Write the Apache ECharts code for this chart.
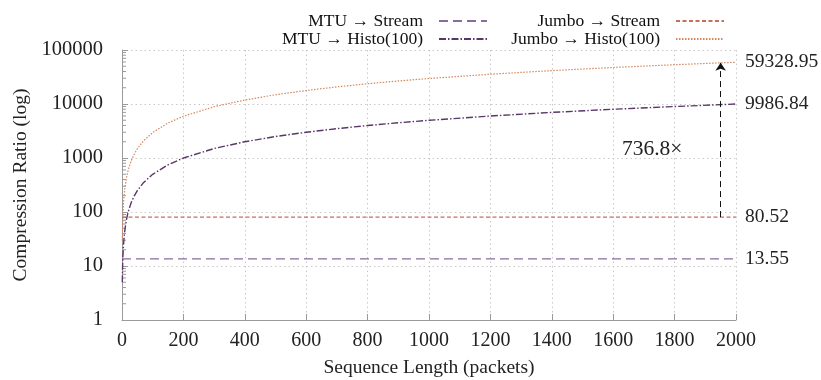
<!DOCTYPE html>
<html><head><meta charset="utf-8">
<script src="https://cdn.jsdelivr.net/npm/echarts@6/dist/echarts.min.js"></script>
<style>html,body{margin:0;padding:0;background:#fff}#c{width:821px;height:380px}</style>
</head><body><div id="c"></div>
<script>
// ---- data ----
const seqLen = [1,2,3,5,7,10,15,20,30,40,50,70,100,150,200,300,400,500,600,700,800,900,1000,1200,1400,1600,1800,2000];
const mtuHisto = [5.0,10.0,15.0,25.0,35.0,49.9,74.9,99.9,149.8,199.7,249.7,349.5,499.3,749,998.7,1498,1997,2497,2996,3495,3995,4494,4993,5992,6991,7989,8988,9986.84];
const jumboHisto = [29.7,59.3,89.0,148.3,207.7,296.6,445,593,890,1187,1483,2077,2966,4450,5933,8899,11866,14832,17799,20765,23732,26698,29664,35597,41530,47463,53396,59328.95];
const streamX = [0, 2000];
const mtuStream = [13.55, 13.55];
const jumboStream = [80.52, 80.52];
const seriesNames = ['MTU \u2192 Stream', 'MTU \u2192 Histo(100)', 'Jumbo \u2192 Stream', 'Jumbo \u2192 Histo(100)'];
const decades = [1, 10, 100, 1000, 10000];
const minorMult = [2,3,4,5,6,7,8,9];
const arrowX = 1950, arrowTop = 57850;
const annotX = 1727, annotY = 1456;

const FONT = 'Liberation Serif';
const pair = (xs, ys) => xs.map((x, i) => [x, ys[i]]);
const minorTicks = [];
decades.forEach(d => minorMult.forEach(m => minorTicks.push([0, d * m])));
const ratio = (jumboHisto[jumboHisto.length - 1] / jumboStream[1]).toFixed(1);

const endLbl = (txt) => ({show: true, formatter: txt, distance: 9, color: '#222', fontSize: 19.5, fontFamily: FONT});
const legendBase = {orient: 'vertical', align: 'right', top: 12, padding: 0, itemGap: 0, itemWidth: 48, itemHeight: 14,
  itemStyle: {opacity: 0, borderWidth: 0},
  textStyle: {fontSize: 17.5, fontFamily: FONT, color: '#111', lineHeight: 14, padding: [0, 11, 0, 0]}};

const chart = echarts.init(document.getElementById('c'), null, {renderer: 'canvas'});
chart.setOption({
  animation: false,
  textStyle: {fontFamily: FONT},
  grid: {left: 122, right: 85, top: 50, bottom: 60, containLabel: false, outerBoundsMode: 'none'},
  legend: [
    Object.assign({}, legendBase, {data: [seriesNames[0], seriesNames[1]], right: 333}),
    Object.assign({}, legendBase, {data: [seriesNames[2], seriesNames[3]], right: 96})
  ],
  xAxis: {
    type: 'value', min: 0, max: 2000, interval: 200,
    name: 'Sequence Length (packets)', nameLocation: 'middle', nameGap: 38,
    nameTextStyle: {fontSize: 19.5, fontFamily: FONT, color: '#222'},
    axisLine: {lineStyle: {color: '#9a9a9a', width: 1}},
    axisTick: {inside: true, length: 6, lineStyle: {color: '#9a9a9a'}},
    axisLabel: {margin: 11, fontSize: 20, fontFamily: FONT, color: '#222', formatter: v => String(v)},
    splitLine: {show: true, lineStyle: {color: '#c8c8c8', type: [1.5, 3], width: 1}}
  },
  yAxis: {
    type: 'log', logBase: 10, min: 1, max: 100000,
    name: 'Compression Ratio (log)', nameLocation: 'middle', nameGap: 86, nameRotate: 90,
    nameTextStyle: {fontSize: 19.5, fontFamily: FONT, color: '#222'},
    axisLine: {show: true, lineStyle: {color: '#9a9a9a', width: 1}},
    axisTick: {show: true, inside: true, length: 6, lineStyle: {color: '#9a9a9a'}},
    axisLabel: {margin: 19, fontSize: 20.5, fontFamily: FONT, color: '#222', formatter: v => String(Math.round(v))},
    splitLine: {show: true, lineStyle: {color: '#c8c8c8', type: [1.5, 3], width: 1}}
  },
  series: [
    {name: seriesNames[0], type: 'line', data: pair(streamX, mtuStream), symbol: 'none',
     lineStyle: {color: '#8b6b9b', width: 1.4, type: [9, 5]}, itemStyle: {color: '#8b6b9b'},
     endLabel: endLbl(p => String(p.value[1]))},
    {name: seriesNames[1], type: 'line', data: pair(seqLen, mtuHisto), symbol: 'none',
     lineStyle: {color: '#5a3569', width: 1.4, type: [7, 2, 1.5, 2]}, itemStyle: {color: '#5a3569'},
     endLabel: endLbl(p => String(p.value[1]))},
    {name: seriesNames[2], type: 'line', data: pair(streamX, jumboStream), symbol: 'none',
     lineStyle: {color: '#c86f58', width: 1.3, type: [4, 2.5]}, itemStyle: {color: '#c86f58'},
     endLabel: endLbl(p => String(p.value[1])),
     markPoint: {silent: true, symbol: 'circle', symbolSize: 0,
       data: [{coord: [annotX, annotY], label: {show: true, position: 'inside', formatter: ratio + '\u00d7', color: '#222', fontSize: 21.5, fontFamily: FONT}}]}},
    {name: seriesNames[3], type: 'line', data: pair(seqLen, jumboHisto), symbol: 'none',
     lineStyle: {color: '#d4875f', width: 1.2, type: [1.5, 1.5]}, itemStyle: {color: '#d4875f'},
     endLabel: endLbl(p => String(p.value[1])),
     markLine: {silent: true, symbol: ['none', 'arrow'], symbolSize: 8, label: {show: false},
       lineStyle: {color: '#111', width: 1, type: [6, 4]},
       data: [[{coord: [arrowX, jumboStream[1]]}, {coord: [arrowX, arrowTop]}]]}},
    {type: 'custom', silent: true, data: minorTicks, z: 3,
     renderItem: (params, api) => {
       const p = api.coord([api.value(0), api.value(1)]);
       return {type: 'line', shape: {x1: p[0], y1: p[1], x2: p[0] + 4, y2: p[1]},
               style: {stroke: '#9a9a9a', lineWidth: 1}};
     }}
  ]
});
</script></body></html>
